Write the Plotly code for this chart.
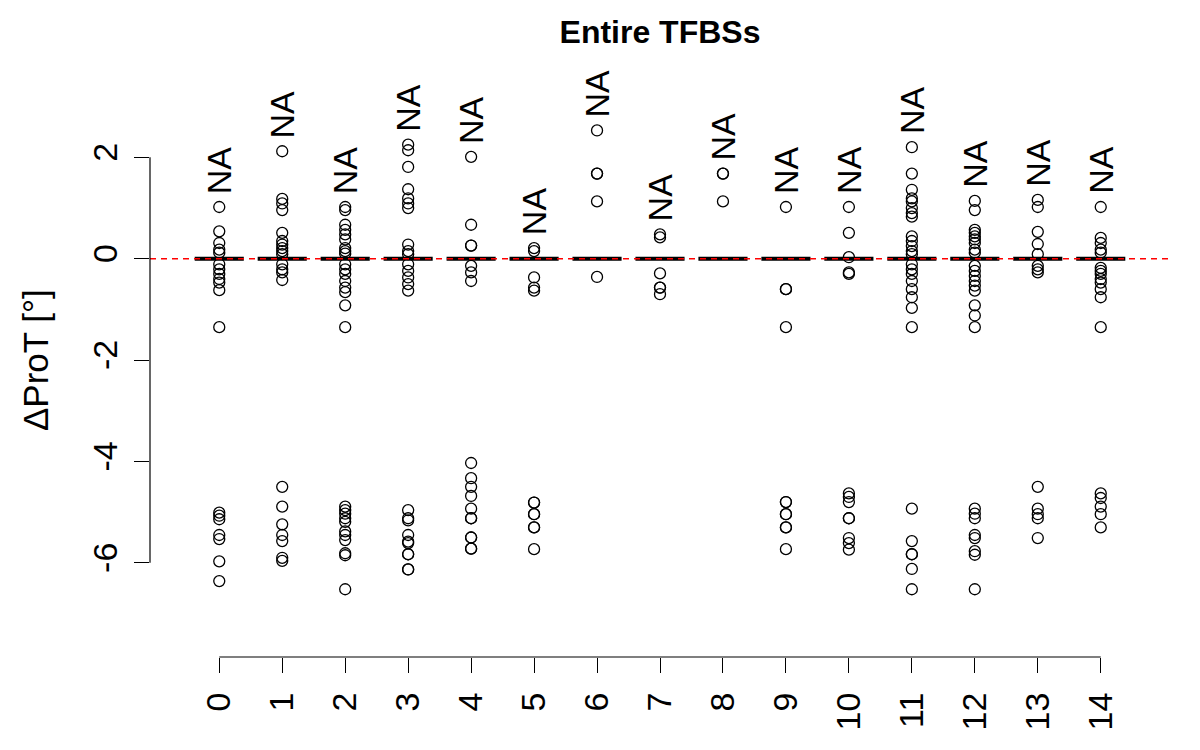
import plotly.graph_objects as go

# ---- data ----
groups = list(range(15))
x_labels = [str(g) for g in groups]
y_ticks = [-6, -4, -2, 0, 2]

outliers = {
    0: [1.02, 0.54, 0.31, 0.18, 0.12, -0.11, -0.21, -0.30, -0.40, -0.47, -0.62, -1.35,
        -5.01, -5.07, -5.14, -5.45, -5.53, -5.97, -6.36],
    1: [2.12, 1.18, 1.09, 0.96, 0.51, 0.35, 0.28, 0.21, 0.15, 0.09, -0.11, -0.21, -0.27, -0.42,
        -4.50, -4.89, -5.24, -5.45, -5.57, -5.90, -5.96],
    2: [1.02, 0.96, 0.67, 0.57, 0.48, 0.38, 0.21, 0.15, 0.10, -0.11, -0.21, -0.30, -0.44, -0.57,
        -0.66, -0.92, -1.35, -4.89, -4.96, -5.03, -5.12, -5.19, -5.38, -5.45, -5.55, -5.81, -5.85, -6.52],
    3: [2.25, 2.14, 1.81, 1.37, 1.19, 1.09, 1.00, 0.28, 0.15, 0.09, -0.11, -0.24, -0.37, -0.50, -0.63,
        -4.96, -5.12, -5.16, -5.45, -5.58, -5.61, -5.83, -5.83, -6.13, -6.13],
    4: [2.01, 0.67, 0.26, 0.26, -0.14, -0.27, -0.44,
        -4.03, -4.33, -4.50, -4.68, -4.93, -5.12, -5.12, -5.50, -5.50, -5.72, -5.72],
    5: [0.21, 0.15, -0.37, -0.57, -0.63, -4.81, -4.81, -5.04, -5.04, -5.30, -5.30, -5.73],
    6: [2.53, 1.68, 1.68, 1.13, -0.36],
    7: [0.48, 0.42, -0.29, -0.57, -0.57, -0.70],
    8: [1.68, 1.68, 1.13],
    9: [1.02, -0.60, -0.60, -1.35, -4.80, -4.80, -5.04, -5.04, -5.30, -5.30, -5.73],
    10: [1.02, 0.51, 0.03, -0.27, -0.30, -4.63, -4.70, -4.80, -5.12, -5.12, -5.51, -5.61, -5.74],
    11: [2.20, 1.68, 1.36, 1.19, 1.13, 1.00, 0.90, 0.83, 0.44, 0.35, 0.25, 0.15, 0.09, -0.11, -0.21,
         -0.30, -0.44, -0.60, -0.76, -0.97, -1.35, -4.93, -5.57, -5.83, -5.83, -6.12, -6.52],
    12: [1.14, 0.96, 0.57, 0.51, 0.44, 0.38, 0.31, 0.18, 0.12, -0.14, -0.24, -0.34, -0.44, -0.53,
         -0.63, -0.92, -1.12, -1.35, -4.93, -5.03, -5.12, -5.45, -5.51, -5.77, -5.84, -6.52],
    13: [1.16, 1.02, 0.53, 0.29, 0.09, -0.14, -0.21, -0.27, -4.50, -4.93, -5.04, -5.12, -5.51],
    14: [1.02, 0.41, 0.31, 0.18, 0.12, -0.18, -0.24, -0.30, -0.40, -0.47, -0.60, -0.76, -1.35,
         -4.63, -4.72, -4.89, -5.04, -5.30],
}

# box statistics (all collapsed at zero)
q1 = [0] * 15
medians = [0] * 15
q3 = [0] * 15
lower_whisker = [0] * 15
upper_whisker = [0] * 15
na_label = "NA"

FONT = "Liberation Sans"
W, H = 1184, 734  # page body adds an 8px margin

fig = go.Figure()

fig.add_trace(go.Box(
    x=groups, q1=q1, median=medians, q3=q3,
    lowerfence=lower_whisker, upperfence=upper_whisker,
    boxpoints=False, width=0.78, whiskerwidth=0.5,
    line=dict(color="black", width=4), fillcolor="white",
    hoverinfo="skip", showlegend=False,
))

px, py = [], []
for g in groups:
    for v in outliers[g]:
        px.append(g)
        py.append(v)

fig.add_trace(go.Scatter(
    x=px, y=py, mode="markers",
    marker=dict(symbol="circle-open", size=11, color="black", line=dict(width=1.3)),
    hoverinfo="skip", showlegend=False,
))

# NA labels above the highest point of each group
for g in groups:
    fig.add_annotation(
        x=g, y=max(outliers[g]), xref="x", yref="y",
        text=na_label, textangle=-90, showarrow=False,
        xanchor="center", yanchor="bottom", yshift=11,
        font=dict(family=FONT, size=34, color="black"),
    )

# red dashed reference line at 0
fig.add_shape(type="line", xref="paper", x0=0, x1=1, yref="y", y0=0, y1=0,
              line=dict(color="#ff0000", width=1.5, dash="6px,5px"), layer="above")

# R-style detached axis lines
fig.add_shape(type="line", xref="paper", x0=0, x1=0, yref="y",
              y0=min(y_ticks), y1=max(y_ticks), line=dict(color="black", width=1.2))
fig.add_shape(type="line", xref="x", x0=min(groups), x1=max(groups), yref="paper",
              y0=0, y1=0, line=dict(color="black", width=1.2))

# y axis title
fig.add_annotation(
    x=-0.1127, y=0.5, xref="paper", yref="paper",
    text="ΔProT [°]", textangle=-90, showarrow=False,
    xanchor="center", yanchor="middle",
    font=dict(family=FONT, size=35, color="black"),
)

fig.update_layout(
    width=W, height=H,
    margin=dict(l=142, r=22, t=55, b=75),
    paper_bgcolor="white", plot_bgcolor="white",
    title=dict(text="<b>Entire TFBSs</b>", x=0.5, xref="paper", xanchor="center",
               y=1 - 24 / H, yref="container", yanchor="middle",
               font=dict(family=FONT, size=32, color="black")),
    xaxis=dict(range=[-1.1, 15.1], tickmode="array", tickvals=groups, ticktext=x_labels,
               tickangle=-90, ticks="outside", ticklen=15, tickwidth=1.2, tickcolor="black",
               showgrid=False, zeroline=False, showline=False, ticklabelstandoff=6,
               tickfont=dict(family=FONT, size=34, color="black")),
    yaxis=dict(range=[-7.857, 3.861], tickmode="array", tickvals=y_ticks,
               ticktext=[str(t) for t in y_ticks],
               tickangle=-90, ticks="outside", ticklen=15, tickwidth=1.2, tickcolor="black",
               showgrid=False, zeroline=False, showline=False, ticklabelstandoff=3,
               tickfont=dict(family=FONT, size=34, color="black")),
)

fig.write_html("out.html")
